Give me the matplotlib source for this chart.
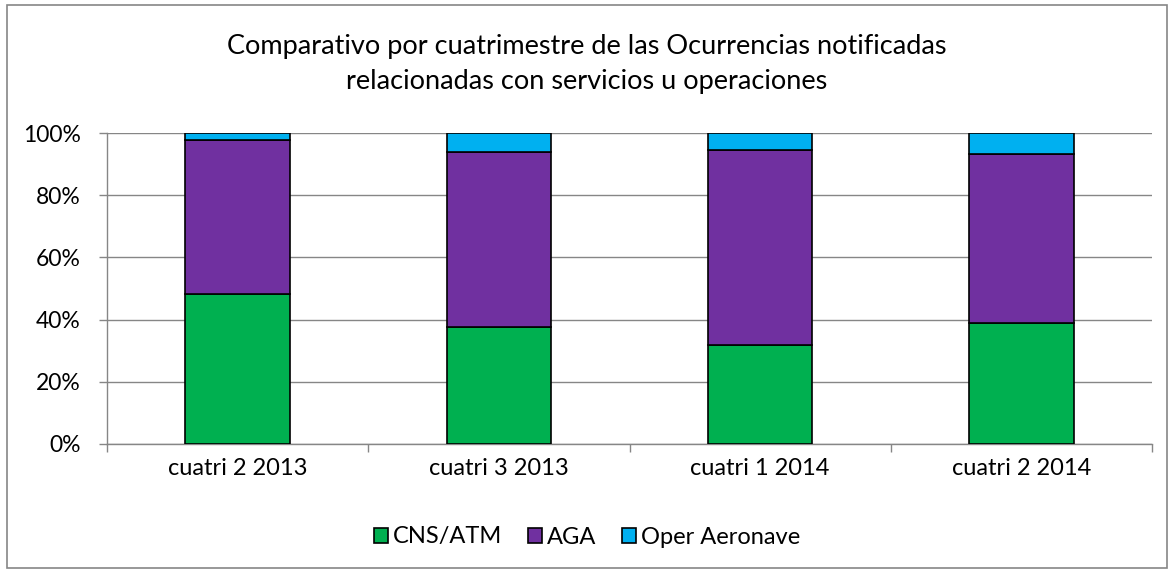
import matplotlib
matplotlib.use("Agg")
import matplotlib.pyplot as plt
from matplotlib.patches import Rectangle
import numpy as np

categories = ["cuatri 2 2013", "cuatri 3 2013", "cuatri 1 2014", "cuatri 2 2014"]
cns_atm = [48.1, 37.7, 31.9, 38.8]
aga = [49.8, 56.3, 62.6, 54.4]
oper_aeronave = [2.1, 6.0, 5.5, 6.8]

series = [
    ("CNS/ATM", cns_atm, "#00B050"),
    ("AGA", aga, "#7030A0"),
    ("Oper Aeronave", oper_aeronave, "#00B0F0"),
]

plt.rcParams["font.family"] = ["Lato", "DejaVu Sans"]

fig = plt.figure(figsize=(11.74, 5.72), dpi=100)
ax = fig.add_axes([107 / 1174, 1 - 444 / 572, 1045 / 1174, 311 / 572])

x = np.arange(len(categories))
bottom = np.zeros(len(categories))
for name, vals, color in series:
    ax.bar(x, vals, width=0.4, bottom=bottom, color=color,
           edgecolor="black", linewidth=1.2, label=name, zorder=3)
    bottom += np.array(vals)

ax.set_xlim(-0.5, len(categories) - 0.5)
ax.set_ylim(0, 100)
ax.set_yticks(np.arange(0, 101, 20))
ax.set_yticklabels([f"{v}%" for v in range(0, 101, 20)], fontsize=16.5)
ax.set_xticks(x)
ax.set_xticklabels(categories, fontsize=17)
ax.set_xticks(np.arange(-0.5, len(categories), 1), minor=True)
ax.tick_params(axis="x", which="major", length=0, pad=10)
ax.tick_params(axis="x", which="minor", length=6, color="#868686", width=1)
ax.tick_params(axis="y", length=6, color="#868686", width=1, pad=13)

ax.yaxis.grid(True, color="#868686", linewidth=1, zorder=0)
ax.set_axisbelow(True)
for side in ["top", "right"]:
    ax.spines[side].set_visible(False)
for side in ["left", "bottom"]:
    ax.spines[side].set_color("#868686")
    ax.spines[side].set_linewidth(1)

fig.text(0.5, 1 - 64 / 572,
         "Comparativo por cuatrimestre de las Ocurrencias notificadas\nrelacionadas con servicios u operaciones",
         ha="center", va="center", fontsize=19.5, linespacing=1.5)

leg = fig.legend(loc="center", bbox_to_anchor=(0.5, 1 - 537 / 572), ncol=3,
                 frameon=False, fontsize=17, handlelength=0.6, handleheight=0.6,
                 handletextpad=0.2, columnspacing=1.1)
for h in leg.legend_handles:
    h.set_linewidth(1.2)

fig.patches.append(Rectangle((7 / 1174, 4 / 572), 1160 / 1174, 563 / 572,
                             transform=fig.transFigure, fill=False,
                             edgecolor="#868686", linewidth=1.2))

fig.savefig("out.png", dpi=100)
